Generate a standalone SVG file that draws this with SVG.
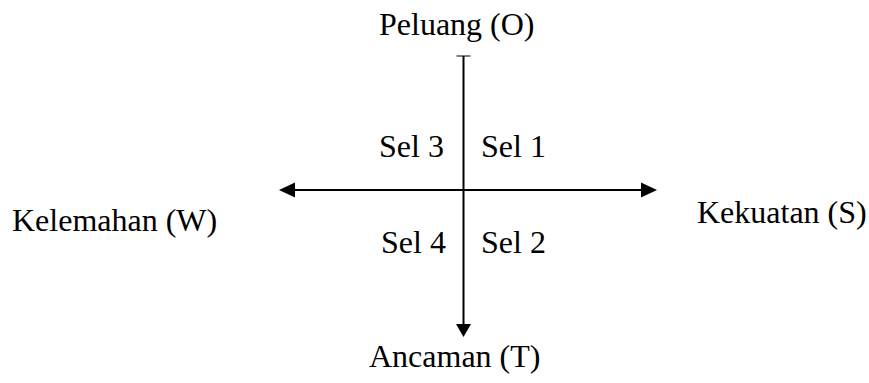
<svg xmlns="http://www.w3.org/2000/svg" width="869" height="383" viewBox="0 0 869 383">
<style>
text{font-family:"Liberation Serif","Times New Roman",serif;font-size:32px;fill:#000}
.ax{stroke:#000;stroke-width:2;fill:none}
.hd{fill:#000;stroke:none}
</style>
<rect width="869" height="383" fill="#fff"/>
<g id="connectors">
<line class="ax" x1="463.5" y1="56" x2="463.5" y2="325"/>
<line x1="456.5" y1="56" x2="470.5" y2="56" stroke="#000" stroke-width="1"/>
<polygon class="hd" points="456,324 471,324 463.5,337"/>
<line class="ax" x1="293" y1="190" x2="643" y2="190"/>
<polygon class="hd" points="279,190 295,182.5 295,197.5"/>
<polygon class="hd" points="657,190 641,182.5 641,197.5"/>
</g>
<g id="node-peluang"><text x="379" y="35">Peluang (O)</text></g>
<g id="node-kelemahan"><text x="12" y="231">Kelemahan (W)</text></g>
<g id="node-kekuatan"><text x="697" y="223">Kekuatan (S)</text></g>
<g id="node-ancaman"><text x="369" y="367">Ancaman (T)</text></g>
<g id="node-sel3"><text x="379" y="157">Sel 3</text></g>
<g id="node-sel1"><text x="481" y="157">Sel 1</text></g>
<g id="node-sel4"><text x="381" y="253">Sel 4</text></g>
<g id="node-sel2"><text x="481" y="253">Sel 2</text></g>
</svg>
